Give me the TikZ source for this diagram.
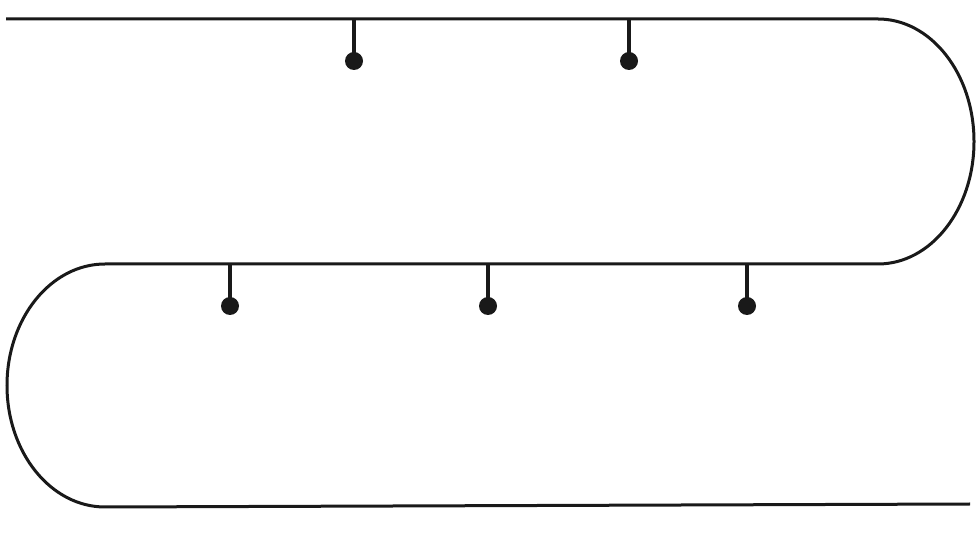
\documentclass[tikz,border=0pt]{standalone}
\begin{document}
\begin{tikzpicture}[x=1pt,y=1pt,
  wire/.style={line width=3pt,draw=black!90},
  pin/.style={circle,fill=black!90,inner sep=0pt,minimum size=18pt},
  stem/.style={line width=3.3pt,draw=black!90}]
\useasboundingbox (0,0) rectangle (980,554);
\draw[wire] (6,535) -- (878,535)
  arc[start angle=90,end angle=-90,x radius=96,y radius=122.5]
  -- (105,290)
  arc[start angle=90,end angle=270,x radius=98,y radius=121.5]
  -- (970,50);
\foreach \n/\x in {a/354,b/629}{
  \coordinate (t\n) at (\x,535);
  \node[pin] (p\n) at (\x,493) {};
  \draw[stem] (t\n) -- (p\n.center);
}
\foreach \n/\x in {c/230,d/488,e/747}{
  \coordinate (t\n) at (\x,290);
  \node[pin] (p\n) at (\x,248) {};
  \draw[stem] (t\n) -- (p\n.center);
}
\end{tikzpicture}
\end{document}
